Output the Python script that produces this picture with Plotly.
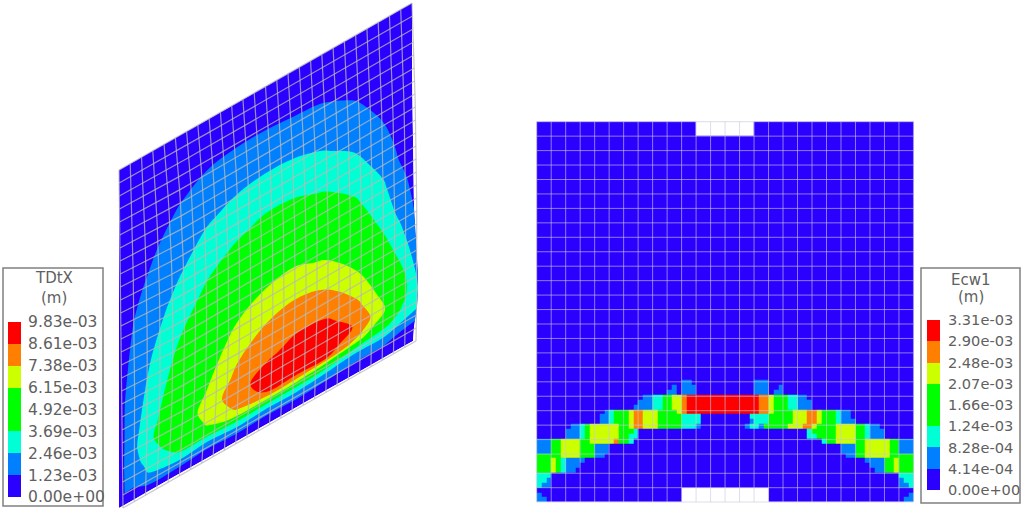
import plotly.graph_objects as go

# ---------- legends ----------
tdtx_ticks = [0.0, 1.23, 2.46, 3.69, 4.92, 6.15, 7.38, 8.61, 9.83]
tdtx_labels = ["0.00e+00", "1.23e-03", "2.46e-03", "3.69e-03", "4.92e-03", "6.15e-03", "7.38e-03", "8.61e-03", "9.83e-03"]
ecw_ticks = [0.0, 0.414, 0.828, 1.24, 1.66, 2.07, 2.48, 2.90, 3.31]
ecw_labels = ["0.00e+00", "4.14e-04", "8.28e-04", "1.24e-03", "1.66e-03", "2.07e-03", "2.48e-03", "2.90e-03", "3.31e-03"]
band_colors = ["#2b00ff", "#0080ff", "#00ffd5", "#00ff00", "#00ff00", "#ccff00", "#ff8000", "#ff0000"]

# ---------- left panel: TDtX field (1e-3 m), one list per column of the plate ----------
plate_u = [0, .02, .05, .1, .2, .3, .4, .5, .6, .7, .8, .9, .95, 1]
plate_v = [0, .1, .2, .3, .4, .5, .6, .7, .8, .85, .88, .9, .92, .94, .96, .98, 1]
tdtx_by_u = [
    [0] * 17,
    [0, .17, .35, .53, .70, .88, 1.05, 1.23, 1.33, 1.40, 1.42, 1.42, 1.38, 1.34, 1.28, 1.10, 0],
    [0, .26, .52, .77, 1.03, 1.30, 1.55, 1.81, 2.07, 2.20, 2.10, 2.00, 1.80, 1.60, 1.35, .80, 0],
    [0, .34, .68, 1.03, 1.40, 1.84, 2.28, 2.70, 3.15, 3.40, 3.15, 3.00, 2.75, 2.57, 2.12, 1.27, 0],
    [0, .58, 1.17, 1.72, 2.28, 2.93, 3.62, 4.26, 4.89, 5.20, 4.75, 4.38, 4.00, 3.57, 2.40, 1.23, 0],
    [0, .85, 1.62, 2.34, 3.11, 3.89, 4.67, 5.46, 6.26, 6.71, 6.55, 6.30, 5.29, 3.28, 1.87, .90, 0],
    [0, .95, 1.83, 2.71, 3.60, 4.61, 5.64, 6.71, 7.74, 8.20, 7.82, 7.56, 6.76, 3.69, 2.32, 1.05, 0],
    [0, .95, 1.90, 2.89, 3.95, 5.07, 6.20, 7.41, 8.45, 9.23, 9.18, 8.76, 6.93, 3.43, 1.93, .88, 0],
    [0, .88, 1.84, 2.86, 3.91, 5.13, 6.38, 7.68, 8.90, 9.60, 9.00, 8.61, 6.60, 3.35, 2.05, .97, 0],
    [0, .83, 1.68, 2.56, 3.58, 4.76, 5.97, 7.38, 8.83, 9.45, 9.10, 8.61, 5.33, 2.83, 1.74, .82, 0],
    [0, .64, 1.30, 2.08, 2.95, 3.94, 5.08, 6.24, 7.67, 8.40, 7.80, 6.70, 3.69, 2.21, 1.36, .67, 0],
    [0, .40, .81, 1.21, 1.92, 2.64, 3.33, 4.25, 5.35, 5.90, 4.90, 4.00, 3.17, 2.27, 1.33, .65, 0],
    [0, .27, .53, .80, 1.06, 1.51, 2.26, 3.19, 4.10, 3.95, 3.44, 2.95, 2.46, 1.51, .91, .46, 0],
    [0, .19, .39, .58, .78, .97, 1.17, 1.63, 2.24, 2.54, 2.70, 2.53, 2.05, 1.23, .82, .41, 0],
]
plate_left_x = 119
plate_right_x = [412, 412, 412, 412.5, 413, 413.5, 414, 416, 418, 418, 417.5, 417, 416, 415, 414, 413.5, 413]
plate_top_y = [170, 3]
plate_height = 338
wire_cells = 26

# ---------- right panel: Ecw1 bands, digit = colour band, x = no element ----------
mesh_x = [536.7 + 14.49 * i for i in range(27)]
mesh_y = [121.7 + 14.45 * i for i in range(24)] + [473.3, 487.7, 502.0]
ecw_top_row = "0" * 33 + "x" * 6
ecw_plain_row = "0" * 39
ecw_left = [
    "0" * 30 + "11",
    "0" * 28 + "1" + "0" + "111",
    "0" * 27 + "11" + "0" + "111",
    "0" * 22 + "11" + "22" + "33" + "55" + "6" + "7" * 8,
    "0" * 21 + "111" + "22" + "33" + "55" + "6" + "7" * 8,
    "0" * 20 + "1111" + "22" + "33" + "55" + "6" + "7" * 8,
    "0" * 14 + "1" + "2" + "333" + "5" + "66" + "555" + "3333" + "5" + "6" + "7" * 8,
    "0" * 13 + "11" + "2" + "333" + "5" + "66" + "555" + "33333" + "2222",
    "0" * 13 + "11" + "2" + "333" + "5" + "66" + "555" + "33333" + "2222",
    "0" * 7 + "11" + "2" + "3" + "55555" + "5" + "33" + "5" + "66" + "555" + "33333" + "2221",
    "0" * 6 + "111" + "2" + "3" + "55555" + "5" + "333" + "2",
    "0" * 6 + "111" + "2" + "3" + "555555" + "33" + "22",
    "111" + "33" + "5555" + "33" + "55555" + "6" + "33" + "2",
    "111" + "33" + "5555" + "333" + "111",
    "111" + "33" + "5555" + "333" + "111",
    "333" + "33" + "5555" + "333" + "11",
    "333" + "5" + "3" + "2" + "1111",
    "333" + "5" + "3" + "2" + "111",
    "333" + "5" + "3" + "2" + "11",
    "222",
    "221",
    "211",
    "0" * 30 + "x" * 9,
    "1" + "0" * 29 + "x" * 9,
    "11" + "0" * 28 + "x" * 9,
]
ecw_right_from_edge = [
    "0" * 30 + "111",
    "0" * 27 + "1" + "00" + "111",
    "0" * 27 + "11" + "0" + "111",
    "0" * 22 + "11" + "22" + "333" + "5" + "66" + "7" * 7,
    "0" * 21 + "111" + "22" + "333" + "5" + "66" + "7" * 7,
    "0" * 21 + "111" + "22" + "333" + "5" + "66" + "7" * 7,
    "0" * 13 + "11" + "2" + "333" + "5" + "66" + "555" + "3333" + "5" + "66" + "7" * 7,
    "0" * 13 + "11" + "2" + "333" + "5" + "66" + "555" + "33333" + "2222",
    "0" * 12 + "111" + "2" + "333" + "5" + "66" + "555" + "33333" + "2221",
    "0" * 7 + "11" + "2" + "33" + "5555" + "3333" + "5" + "66" + "555" + "33333" + "1221",
    "0" * 6 + "111" + "2" + "33" + "5555" + "33333" + "2",
    "0" * 6 + "111" + "2" + "33" + "5555" + "3333" + "22",
    "111" + "33" + "55555" + "33" + "5555" + "33" + "2",
    "111" + "33" + "55555" + "33" + "111",
    "111" + "33" + "55555" + "33" + "111",
    "333" + "33" + "55555" + "33" + "11",
    "333" + "5" + "33" + "1111",
    "333" + "5" + "33" + "111",
    "333" + "5" + "33" + "11",
    "222",
    "221",
    "211",
    "0" * 30 + "x" * 9,
    "1" + "0" * 29 + "x" * 9,
    "11" + "0" * 28 + "x" * 9,
]
ecw_row_edges = [121.7, 136.2, 380.0] + [380 + 4.88 * i for i in range(1, 26)]

# ---------- style ----------
FONT = "DejaVu Sans"
TEXT = "#606060"
WIRE = "rgba(185,185,185,0.78)"
GRID = "rgba(200,200,225,0.62)"
BOX = "#808080"


def stepped(colors):
    n = len(colors)
    out = []
    for i, c in enumerate(colors):
        out += [[i / n, c], [(i + 1) / n, c]]
    return out


fig = go.Figure()

# left plate: carpet mesh + filled contours
xs, ys = [], []
for iv, v in enumerate(plate_v):
    xs.append([plate_left_x + u * (plate_right_x[iv] - plate_left_x) for u in plate_u])
    ys.append([plate_top_y[0] + u * (plate_top_y[1] - plate_top_y[0]) + v * plate_height for u in plate_u])
tdtx_z = [[col[iv] for col in tdtx_by_u] for iv in range(len(plate_v))]
hidden = dict(showgrid=False, showticklabels="none", startline=False, endline=False,
              minorgridcount=0, smoothing=0, linewidth=0)
fig.add_trace(go.Carpet(a=plate_u, b=plate_v, x=xs, y=ys, carpet="plate", aaxis=hidden, baxis=hidden))
fig.add_trace(go.Contourcarpet(a=plate_u, b=plate_v, z=tdtx_z, carpet="plate", autocontour=False,
                               contours=dict(start=tdtx_ticks[1], end=tdtx_ticks[7] + .01, size=1.229,
                                             coloring="fill", showlines=False),
                               line=dict(width=0, smoothing=1), colorscale=stepped(band_colors), zmin=0, zmax=9.83,
                               showscale=False))

# left plate wireframe
wx, wy = [], []


def wire_point(u, v):
    lean = 32 * min(1, 6 * u) * (1 - .7 * u)
    x = plate_left_x + 293 * u + lean * v * (1 - v) + 4 * v
    y = plate_top_y[0] + (plate_top_y[1] - plate_top_y[0]) * u + plate_height * v
    return x, y


for i in range(wire_cells + 1):
    for j in range(wire_cells + 1):
        x, y = wire_point(i / wire_cells, j / wire_cells)
        wx.append(x); wy.append(y)
    wx.append(None); wy.append(None)
    for j in range(wire_cells + 1):
        x, y = wire_point(j / wire_cells, i / wire_cells)
        wx.append(x); wy.append(y)
    wx.append(None); wy.append(None)
fig.add_trace(go.Scatter(x=wx, y=wy, mode="lines", line=dict(color=WIRE, width=1.2), hoverinfo="skip"))

# right panel: element bands
rows = [ecw_top_row, ecw_plain_row] + ecw_left
rows_r = [ecw_top_row, ecw_plain_row] + ecw_right_from_edge
ecw_z = []
for left, right in zip(rows, rows_r):
    full = left.ljust(39, "0") + right.ljust(39, "0")[::-1]
    ecw_z.append([None if ch == "x" else (int(ch) + .5) * ecw_ticks[1] for ch in full])
step = (mesh_x[-1] - mesh_x[0]) / 78
ecw_x = [mesh_x[0] + step * i for i in range(79)]
fig.add_trace(go.Heatmap(x=ecw_x, y=ecw_row_edges, z=ecw_z, colorscale=stepped(band_colors), zmin=0, zmax=3.312,
                         showscale=False, hoverinfo="skip", hoverongaps=False))
gx, gy = [], []
for x in mesh_x:
    gx += [x, x, None]; gy += [mesh_y[0], mesh_y[-1], None]
for y in mesh_y:
    gx += [mesh_x[0], mesh_x[-1], None]; gy += [y, y, None]
fig.add_trace(go.Scatter(x=gx, y=gy, mode="lines", line=dict(color=GRID, width=1), hoverinfo="skip"))


def add_legend(ticks, labels, xaxis, yaxis, xdom, ydom, size, gap):
    mids = [[(i + .5)] for i in range(8)]
    fig.add_trace(go.Heatmap(x=[0, 1], y=ticks, z=mids, zmin=0, zmax=8, colorscale=stepped(band_colors),
                             showscale=False, hoverinfo="skip", xaxis=xaxis, yaxis=yaxis))
    fig.update_layout(**{
        "xaxis" + xaxis[1:]: dict(domain=xdom, anchor=yaxis, visible=False, range=[0, 1], automargin=False),
        "yaxis" + yaxis[1:]: dict(domain=ydom, anchor=xaxis, side="right", range=[ticks[0], ticks[-1]],
                                  tickmode="array", tickvals=ticks, ticktext=labels, ticks="outside", ticklen=gap,
                                  tickcolor="rgba(0,0,0,0)", showgrid=False, zeroline=False, showline=False,
                                  automargin=False, tickfont=dict(family=FONT, size=size, color=TEXT)),
    })


W, H = 1024, 513
add_legend(tdtx_ticks, tdtx_labels, "x2", "y2", [8 / W, 21 / W], [(H - 497) / H, (H - 322) / H], 15.5, 3)
add_legend(ecw_ticks, ecw_labels, "x3", "y3", [927 / W, 940 / W], [(H - 490) / H, (H - 320) / H], 14.6, 4)

shapes = [
    dict(type="rect", xref="x", yref="y", x0=3, x1=103, y0=268, y1=506, line=dict(color=BOX, width=1.5), fillcolor="white", layer="below"),
    dict(type="rect", xref="x", yref="y", x0=921, x1=1020, y0=268, y1=503, line=dict(color=BOX, width=1.5), fillcolor="white", layer="below"),
]
annots = [
    dict(x=54, y=278, text="TDtX"), dict(x=54, y=298, text="(m)"),
    dict(x=971, y=280, text="Ecw1"), dict(x=971, y=297, text="(m)"),
]
for a in annots:
    a.update(xref="x", yref="y", showarrow=False, font=dict(family=FONT, size=15, color=TEXT))

fig.update_layout(
    template="none", width=W, height=H, margin=dict(l=0, r=0, t=0, b=0, pad=0), paper_bgcolor="white",
    plot_bgcolor="rgba(0,0,0,0)", showlegend=False, shapes=shapes, annotations=annots,
    xaxis=dict(range=[0, W], domain=[0, 1], visible=False, fixedrange=True, automargin=False),
    yaxis=dict(range=[H, 0], domain=[0, 1], visible=False, fixedrange=True, automargin=False),
)
fig.write_html("out.html", post_script="document.body.style.margin='0';", config=dict(displayModeBar=False))
